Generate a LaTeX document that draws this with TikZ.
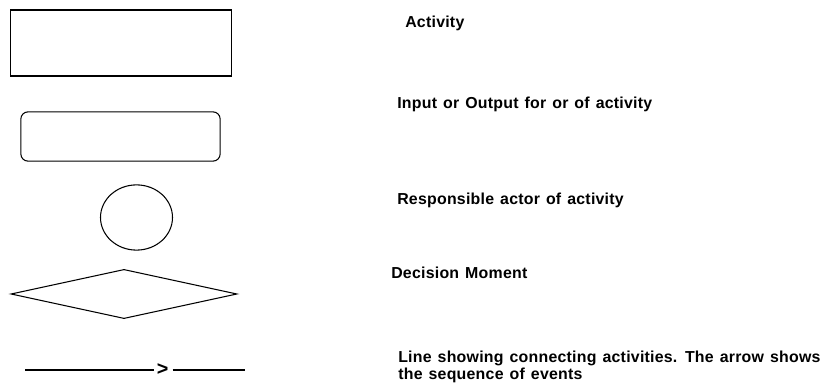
\documentclass[tikz,border=0pt]{standalone}
\usepackage{fontspec}
\setmainfont{Liberation Sans}[LetterSpace=1.5, WordSpace=1.3]
\usetikzlibrary{shapes.geometric}

\begin{document}
\begin{tikzpicture}[x=0.025cm, y=-0.025cm,
		shp/.style={draw, line width=0.75pt, inner sep=0pt},
		txt/.style={anchor=west, inner sep=0pt, font=\fontsize{11.3}{12}\selectfont\bfseries, align=left}]
				\useasboundingbox (0,0) rectangle (830,385);
				\begin{scope}
					% symbols
					\node[shp, rectangle, minimum width=5.5cm, minimum height=1.65cm] (act) at (121,43) {};
					\node[shp, rectangle, rounded corners=5pt, minimum width=4.98cm, minimum height=1.23cm] (inout) at (120.5,136.5) {};
					\node[shp, ellipse, minimum width=1.8cm, minimum height=1.63cm] (actor) at (136.5,217.5) {};
					\node[shp, diamond, minimum width=5.65cm, minimum height=1.23cm] (dec) at (124,294) {};

					% connecting line
					\coordinate (lnA) at (25,370);
					\node[inner sep=0pt, font=\fontsize{14}{14}\selectfont\bfseries] (gt) at (162.5,370) {>};
					\coordinate (lnB) at (245,370);
					\draw[line width=0.75pt] (lnA) -- ([xshift=-2pt]gt.west);
					\draw[line width=0.75pt] ([xshift=3pt]gt.east) -- (lnB);

					% labels
					\node[txt] (tact) at (405,23) {Activity};
					\node[txt] (tinout) at (397,104) {Input or Output for or of activity};
					\node[txt] (tactor) at (397,200) {Responsible actor of activity};
					\node[txt] (tdec) at (391,273) {Decision Moment};
					\node[txt] (tline) at (398,367) {Line showing connecting activities. The arrow shows\\the sequence of events};
				\end{scope}
			\end{tikzpicture}
\end{document}
